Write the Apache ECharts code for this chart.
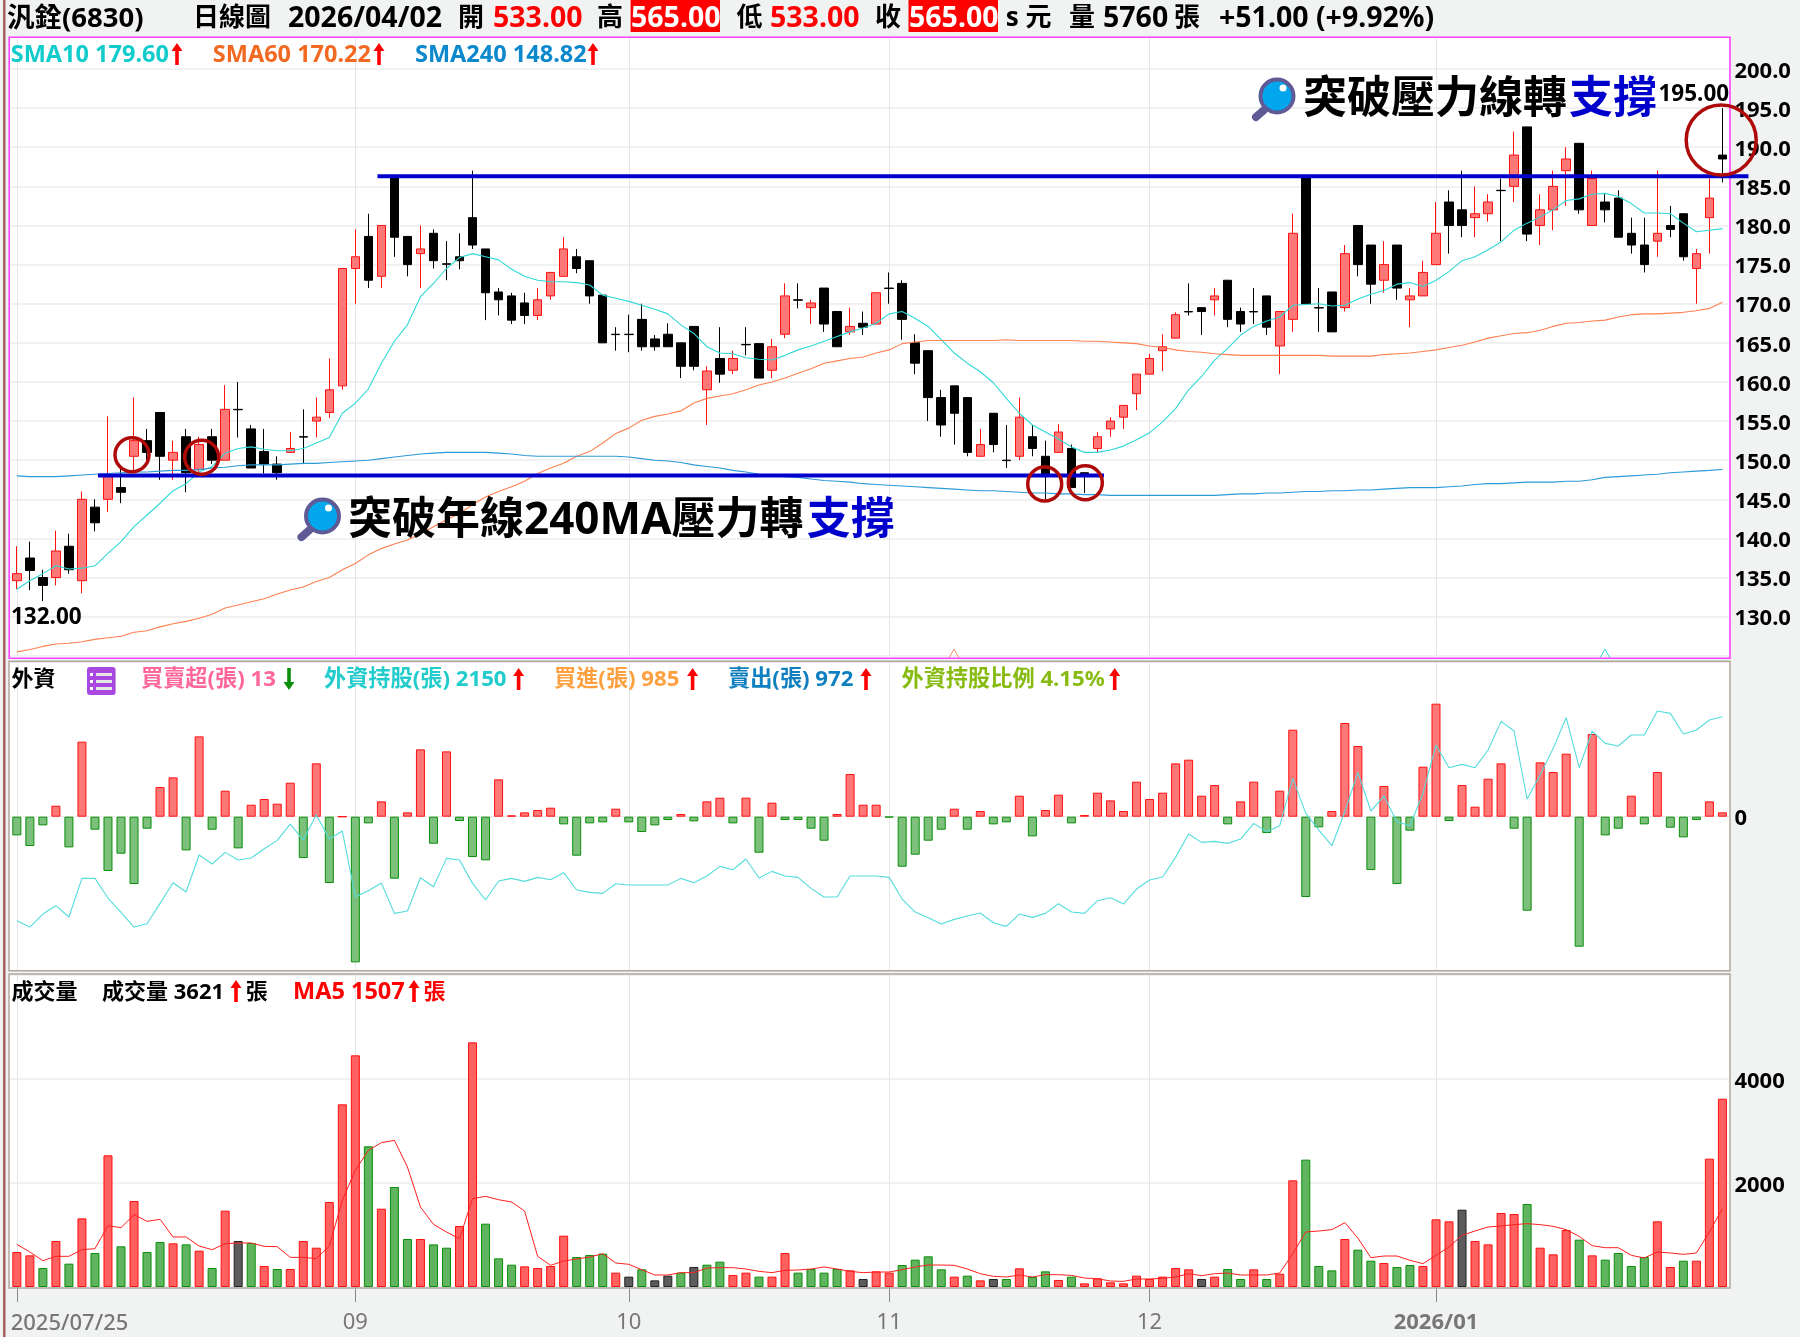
<!DOCTYPE html>
<html><head><meta charset="utf-8">
<style>html,body{margin:0;padding:0;background:#f1f3f2}#c{width:1800px;height:1337px}</style>
<script src="https://cdn.jsdelivr.net/npm/echarts@6/dist/echarts.min.js"></script>
</head><body><div id="c"></div>
<script>
// [open, close, low, high]
const candles=[[134.6,135.5,133.5,139],[137.5,135.9,133.4,139.6],[135,134,132,136],[135,138.4,134,141],[139,136,135.5,140.6],[134.6,145,133,146],[144,142,140.9,145],[145,148,143.4,155.6],[146.5,145.9,144.5,149],[150.5,152.5,148.5,158],
[152.5,151,150,154],[156.1,150.5,147.5,156.1],[150,151,147.5,152.5],[153,148.4,145.9,154],[148.8,152,148,153],[153,150,149.5,154],[150,156.5,150,159.6],[156.5,156.45,152.9,160],[154,149,149,154.5],[151.1,149.5,148.3,154],
[149.5,148.4,147.5,150.5],[151,151.5,151,153.6],[153,152.95,149.5,156.5],[155,155.5,152.9,158],[156.1,159,155.4,163],[159.5,174.5,159,174.5],[174.5,176,170,179.5],[178.6,173,172,181.5],[173.5,180,172,180],[186.3,178.5,176,186.5],
[178.6,175,173.5,178.6],[176.4,177,172,180],[179,175.5,174.5,179.5],[175.1,175.05,173,178],[176,175.5,174.4,179],[181,177.5,177,187],[177,171.4,167.9,177],[171.5,170.5,168.5,172],[171,167.9,167.4,171.4],[170.1,168.5,167.4,171.4],
[168.5,170.5,167.9,172],[171,174,170.5,174],[173.5,177,173.5,178.5],[176,174.5,173.9,177],[175.5,171,170,175.5],[171.1,165,165,171.1],[166.1,166.05,164,167],[166.1,166.05,163.8,168.6],[168,164.5,164,170],[165.5,164.5,164,166],
[166.1,164.5,164.5,167.5],[165,162,160.5,165],[167.1,162,161.5,167.1],[159,161.4,154.5,162],[163,161,159.9,167],[161.5,163,161,164],[164.8,164.75,163.4,167],[164.9,160.5,160.5,164.9],[161.5,164.5,160.5,165.5],[166.1,171,165.6,172.6],
[170.5,170.45,169.4,172.6],[169.5,170.1,167.4,170.5],[172,167.4,166.4,172],[169,164.5,164.5,169],[166.4,167.1,166,169.5],[167.5,167,166,169],[167.4,171.4,167.4,171.4],[172,171.95,170,174],[172.6,168,165.4,173],[165,162.4,161,166.1],
[164,158,155,164],[158,154.5,153,159],[159.5,156,152,159.5],[158,151,150.5,158],[150.5,152,150.5,154],[156,152,151,156],[150,149.95,149,154.5],[150.5,155.5,150,158],[153,151.5,150.5,154.5],[150.5,148,145,152.5],
[151,153.6,151,154.6],[151.5,146.5,146.5,152],[148.4,148.2,145.8,148.4],[151.5,153,151,153.6],[154,155,153,155.5],[155.5,157,154,157],[158.5,161,156.4,161],[161,163,161,163.6],[164,164.5,161.4,166.1],[165.6,168.6,165.6,168.9],
[169,168.95,168.5,172.6],[169.5,169,166,169.5],[170.5,171,168.5,172],[173,168,167,173],[169,167.4,166.4,169.5],[169,168.95,167.4,172],[171,167,166,171],[164.6,169,161,169],[168,179,166.4,181.5],[186.2,170,170,186.5],
[169.5,169.45,166.4,172],[171.5,166.4,166.4,171.5],[169.5,176.4,169,177.5],[180,175,173.5,180],[177.5,172.5,170,177.5],[173,175,171.4,178],[177.5,172,170.5,177.5],[170.5,171,167,172],[171,174,171,175.5],[175,179,175,183],
[183,180,176.4,184.5],[182,180,178.5,187],[181,181.5,178.5,185],[181.5,183,180.5,184],[184.5,184.45,178,186],[185,189,183,192],[192.6,178.9,178,192.6],[180,182,177.5,184],[182,185,179.4,187],[187,188.5,182.5,190],
[190.5,182,181.5,190.5],[180,186,180,187],[183,182,180.4,184.1],[183.5,178.5,178.5,184.5],[179,177.5,176.4,181],[177.5,175,174,181],[178,179,176,187],[180,179.5,178.5,182.5],[181.5,176,175.5,181.5],[174.5,176.4,170,177],[181,183.5,176.4,186],[189,188.5,185.5,195]];
const sma10=[133.5,134.6,135.5,136.5,136.1,136.2,136.5,138.1,139.6,141.5,143,144.5,146.1,147,148.5,149.2,150.9,151.5,151.7,151.4,151.2,151.2,151.5,152.2,152.9,156,157.3,159.1,162.4,165.2,167.3,170.9,172.6,174.5,175.9,176.4,176,175.6,174.4,173.5,173,172.8,172.8,172.7,172.4,171.1,170.7,170.3,169.8,169.3,168.7,167.3,166.2,164.5,163.7,163.6,163.1,162.9,162.8,163.4,164.1,164.6,165.2,165.8,166.4,166.9,167.5,168.7,169,168.1,167.1,165.4,163.7,162.4,161.3,159.9,157.9,156,154.5,153.6,152.7,151.7,151,151,151.3,151.8,152.6,153.5,154.9,156.6,159,160.7,162.8,164.3,166,167.1,167.8,168.3,169.8,169.9,170,169.7,169.8,170.6,171.2,171.7,172.5,172.7,172.2,173,174.1,175.5,176,176.9,177.9,179.4,180.3,181.1,182,183.2,183.4,184,184.1,183.7,182.8,181.6,181.6,181.5,180.3,179.2,179.4,179.6];
const sma60=[125.5,125.8,126.2,126.5,126.6,126.8,127.1,127.3,127.5,128,128.2,128.7,129.1,129.4,129.8,130.3,131.1,131.5,131.9,132.3,132.9,133.4,133.8,134.5,135,136,136.8,137.9,138.7,139.3,139.8,140.6,141.5,142.4,143.2,144.3,145.3,146,146.6,147.3,148.3,149,149.6,150.5,151.1,152.2,153.4,154.1,155.1,155.6,155.9,156.3,157.3,157.9,158.2,158.5,159,159.6,160,160.5,161.1,161.7,162.4,162.7,163,163.2,163.7,164.1,164.9,165.1,165.3,165.3,165.3,165.3,165.3,165.3,165.4,165.3,165.3,165.3,165.3,165.3,165.2,165.2,165.1,165,164.9,164.6,164.4,164.1,163.9,163.8,163.6,163.5,163.4,163.4,163.4,163.4,163.4,163.4,163.4,163.3,163.3,163.3,163.3,163.5,163.6,163.7,163.9,164.1,164.4,164.7,165.1,165.6,165.9,166.2,166.3,166.6,167.1,167.5,167.6,167.8,167.9,168.3,168.6,168.7,168.7,168.8,168.9,169.1,169.4,170.2];
const sma240=[148,147.9,147.9,147.9,148,148.1,148.2,148.3,148.4,148.5,148.5,148.6,148.7,148.7,148.8,149,149.1,149.3,149.4,149.4,149.4,149.5,149.6,149.6,149.7,149.8,149.9,150,150.2,150.4,150.6,150.8,150.9,151,151,151,151,150.9,150.8,150.6,150.5,150.5,150.5,150.5,150.5,150.5,150.5,150.4,150.2,150,149.9,149.7,149.4,149.2,149,148.7,148.5,148.2,148.1,147.9,147.8,147.6,147.4,147.3,147.2,147,146.9,146.8,146.7,146.6,146.5,146.4,146.3,146.2,146.1,146.1,146,145.9,145.8,145.8,145.7,145.7,145.6,145.6,145.5,145.5,145.5,145.5,145.5,145.5,145.5,145.5,145.5,145.6,145.7,145.7,145.8,145.8,145.9,146,146,146.1,146.1,146.2,146.2,146.3,146.4,146.5,146.5,146.5,146.6,146.7,146.9,147,147,147.1,147.2,147.2,147.2,147.3,147.3,147.5,147.8,147.9,148,148.1,148.2,148.4,148.5,148.6,148.7,148.82];
const foreignNet=[-56,-88,-26,33,-92,225,-39,-163,-111,-202,-36,89,118,-101,241,-39,78,-95,36,53,39,102,-124,160,-199,0,-437,-20,46,-186,13,202,-81,196,-13,-121,-131,112,4,13,20,27,-23,-117,-20,-17,24,-17,-46,-26,-10,8,-14,46,57,-20,57,-108,42,-10,-10,-36,-72,8,128,36,36,-2,-150,-114,-72,-39,24,-39,17,-23,-17,63,-59,20,66,-20,5,72,49,17,105,53,72,160,171,63,95,-23,46,105,-49,78,261,-241,-32,17,281,212,-160,92,-202,-42,150,339,-13,95,30,114,160,-36,-282,163,134,189,-390,248,-56,-36,63,-23,134,-33,-62,-10,46,13];
const foreignHold=[926,888,966,1016,948,1180,1180,1062,976,888,908,1030,1154,1098,1320,1266,1336,1290,1302,1358,1408,1506,1410,1562,1416,1464,1070,1106,1152,970,984,1184,1130,1300,1290,1150,1050,1164,1180,1162,1186,1172,1214,1110,1096,1090,1148,1140,1140,1140,1140,1180,1154,1194,1252,1232,1296,1182,1222,1194,1186,1120,1068,1068,1194,1194,1194,1186,1056,978,944,906,934,954,972,914,892,966,946,970,1028,978,970,1046,1064,1026,1116,1170,1188,1306,1446,1396,1402,1390,1416,1510,1460,1496,1780,1570,1470,1376,1580,1816,1584,1674,1520,1496,1690,1980,1844,1864,1844,1950,2122,2064,1656,1800,1960,2144,1844,2064,1990,1974,2040,2040,2184,2170,2046,2070,2130,2150];
const volume=[673,609,365,885,449,1320,654,2532,782,1654,673,865,840,820,699,365,1468,885,846,404,346,346,885,756,1635,3513,4455,2705,1506,1923,923,923,820,756,1173,4705,1218,551,429,397,365,404,987,577,615,641,276,199,340,128,218,276,385,429,487,231,276,199,199,654,276,346,276,346,320,154,301,276,423,526,590,340,199,218,128,154,154,359,192,301,135,199,70,167,90,70,218,154,199,365,340,154,199,346,154,340,154,256,2051,2449,404,320,923,718,506,461,385,423,404,1301,1263,1487,885,820,1423,1404,1596,756,628,1096,910,609,526,654,404,577,1263,385,506,506,2468,3621];
const volumeKinds=("r r g r g r g r g r g g r g r g r k g r g r r r r r r g r g g r g g r r g g g r r r r g g "+
"g r k g k k g k g g r r g r r g g g g r k r r g g g g r g r k g r g g r g r r r r r r r r r k "+
"r g g r g r r g g g r g g r g g r r r k r r r r g r r r g r g g g g r r g r r r").trim().split(/\s+/);
const ma5=[820,673,506,590,590,718,737,1179,1141,1391,1263,1301,962,962,788,718,833,846,846,782,776,570,570,545,788,1667,2244,2628,2776,2820,2308,1538,1205,1058,929,1699,1744,1679,1635,1461,590,417,500,538,577,641,462,436,333,231,231,276,276,365,372,372,346,301,276,320,327,346,385,346,301,276,288,288,333,385,423,423,417,346,256,205,192,231,192,237,237,224,173,160,115,109,154,154,167,192,256,218,256,269,231,231,231,269,641,1058,1077,1103,1237,942,564,596,596,513,449,609,769,994,1077,1154,1173,1199,1218,1199,1167,1103,974,795,756,756,609,558,673,654,628,654,1058,1507];
const tickLabels={0:'2025/07/25',26:'09',47:'10',67:'11',87:'12',109:'2026/01'};
const priceLevels=[186.3,148.06];
const categories=candles.map((_,i)=>String(i));

const F='"Noto Sans","Noto Sans CJK TC",sans-serif';
const isTick=i=>tickLabels[i]!==undefined;
const vLine={show:true,interval:isTick,alignWithLabel:true,lineStyle:{color:'#e6e6e6',width:1}};
function xAxis(gi,withLabels){return {type:'category',gridIndex:gi,data:categories,boundaryGap:true,
  axisLine:{show:false},
  axisTick:{show:withLabels,alignWithLabel:true,interval:isTick,length:15,lineStyle:{color:'#888',width:1}},
  axisLabel:{show:withLabels,interval:isTick,margin:25,fontFamily:F,fontSize:22,color:'#777',
    formatter:(v,i)=>i===0?'':(i===109?'{b|2026/01}':tickLabels[i]),rich:{b:{fontWeight:'bold',fontFamily:F,fontSize:22,color:'#777'}}},
  splitLine:vLine};}
const yLabel={fontFamily:F,fontSize:22,fontWeight:'bold',color:'#000',margin:5.5,verticalAlign:'top',lineHeight:5};
const hLine={show:true,lineStyle:{color:'#ececec',width:1.5}};
const GL=10.33,GW=1718.6;
const option={animation:false,backgroundColor:'#f1f3f2',
 grid:[{left:GL,width:GW,top:29.88,height:625.92},{left:GL,width:GW,top:662.7,height:308},{left:GL,width:GW,top:975,height:312}],
 xAxis:[xAxis(0,false),xAxis(1,false),xAxis(2,true)],
 yAxis:[
  {type:'value',gridIndex:0,position:'right',min:125,max:205,interval:5,axisLine:{show:false},axisTick:{show:false},splitLine:hLine,
   axisLabel:Object.assign({},yLabel,{formatter:v=>(v===125||v===205)?'':v.toFixed(1)})},
  {type:'value',gridIndex:1,position:'right',min:-462,max:462,interval:462,axisLine:{show:false},axisTick:{show:false},splitLine:{show:true,lineStyle:{color:'#e8e8e8',width:1}},
   axisLabel:Object.assign({},yLabel,{formatter:v=>v===0?'0':''})},
  {type:'value',gridIndex:1,position:'right',min:626,max:2474,show:false,splitLine:{show:false}},
  {type:'value',gridIndex:2,position:'right',min:0,max:6000,interval:2000,axisLine:{show:false},axisTick:{show:false},splitLine:hLine,
   axisLabel:Object.assign({},yLabel,{formatter:v=>(v===0||v===6000)?'':String(v)})}
 ],
 series:[
  {type:'candlestick',name:'K',xAxisIndex:0,yAxisIndex:0,data:candles,barWidth:9,z:3,
   itemStyle:{color:'#ff7878',color0:'#000',borderColor:'#ff1010',borderColor0:'#000',borderWidth:1}},
  {type:'line',name:'SMA10',xAxisIndex:0,yAxisIndex:0,data:sma10,showSymbol:false,z:4,lineStyle:{color:'#30d8d8',width:1.1}},
  {type:'line',name:'SMA60',xAxisIndex:0,yAxisIndex:0,data:sma60,showSymbol:false,z:4,lineStyle:{color:'#ff8050',width:1.1}},
  {type:'line',name:'SMA240',xAxisIndex:0,yAxisIndex:0,data:sma240,showSymbol:false,z:4,lineStyle:{color:'#2a9ad8',width:1.1}},
  {type:'bar',name:'買賣超',xAxisIndex:1,yAxisIndex:1,barWidth:9,z:3,
   data:foreignNet.map(v=>({value:v,itemStyle:v>=0?{color:'#ff7878',borderColor:'#ff1010',borderWidth:1}:{color:'#7cc07c',borderColor:'#0a8f0a',borderWidth:1}}))},
  {type:'line',name:'外資持股',xAxisIndex:1,yAxisIndex:2,data:foreignHold,showSymbol:false,z:4,lineStyle:{color:'#55dcdc',width:1.1}},
  {type:'bar',name:'成交量',xAxisIndex:2,yAxisIndex:3,barWidth:9,z:3,
   data:volume.map((v,i)=>{const k=volumeKinds[i];return {value:v,itemStyle:k==='r'?{color:'#ff6060',borderColor:'#ff1010',borderWidth:1}:k==='g'?{color:'#60b460',borderColor:'#0a8f0a',borderWidth:1}:{color:'#5c5c5c',borderColor:'#222',borderWidth:1}};})},
  {type:'line',name:'MA5',xAxisIndex:2,yAxisIndex:3,data:ma5,showSymbol:false,z:4,lineStyle:{color:'#ff2020',width:1}}
 ]};
const chart=echarts.init(document.getElementById('c'),null,{renderer:'canvas',width:1800,height:1337});
chart.setOption(option);

const band=GW/132;
const px=(i,p)=>{const a=chart.convertToPixel({gridIndex:0},[Math.floor(i),p]);return [a[0]+(i-Math.floor(i))*band,a[1]];};
const Z=100;
function T(x,y,text,fill,size,weight){return {type:'text',z:Z+5,style:{x,y:y+2.5,text,fill,font:`${weight||700} ${size}px ${F}`,textVerticalAlign:'middle',textAlign:'left'}};}
function arrow(x,y0,color,down){const y=y0+1,s=down?-1:1;return {type:'polygon',z:Z+5,shape:{points:[[x,y-11*s],[x+5.5,y-3*s],[x+1.8,y-3*s],[x+1.8,y+11*s],[x-1.8,y+11*s],[x-1.8,y-3*s],[x-5.5,y-3*s]]},style:{fill:color}};}
function rect(x,y,w,h,fill,z){return {type:'rect',z:z===undefined?Z:z,shape:{x,y,width:w,height:h},style:{fill}};}
function border(x,y,w,h,color,lw){return {type:'rect',z:Z+1,shape:{x,y,width:w,height:h},style:{fill:'none',stroke:color,lineWidth:lw}};}
function circle(cx,cy,r){return {type:'circle',z:Z+6,shape:{cx,cy,r},style:{fill:'none',stroke:'#ae0a0a',lineWidth:3.5}};}
function lens(cx,cy){return [
 {type:'line',z:Z+6,shape:{x1:cx-13,y1:cy+14,x2:cx-21,y2:cy+21},style:{stroke:'#5f5a96',lineWidth:8,lineCap:'round'}},
 {type:'circle',z:Z+6,shape:{cx,cy,r:16.5},style:{fill:'#02a6ec',stroke:'#5f5a96',lineWidth:4}},
 {type:'circle',z:Z+6,shape:{cx:cx+6,cy:cy-8,r:3.5},style:{fill:'#fff'}}];}
const hs=(i1,i2,p)=>{const a=px(i1,p),b=px(i2,p);return {type:'line',z:Z+3,shape:{x1:a[0],y1:a[1],x2:b[0],y2:b[1]},style:{stroke:'#0000cc',lineWidth:4}};};
const S=23.5,C=22.2,H=28.5,H2=26;
const gfx=[
 rect(9,37,1721,622,'#fff',-1),rect(9,661,1721,310,'#fff',-1),rect(9,974,1721,314,'#fff',-1),
 rect(0,0,1800,36.5,'#f1f3f2',Z-1),rect(3,0,2.5,1337,'#a86060',Z-1),
 hs(27.7,133,priceLevels[0]),hs(6.23,83.5,priceLevels[1]),
 border(9.2,37.3,1720.8,621,'#ff44ff',1.6),border(9,661.3,1721,309.4,'#b0a89e',1.5),border(9,974,1721,314,'#b0a89e',1.5),
 T(7,16.5,'汎銓(6830)','#000',27.5),T(193,16.5,'日線圖','#000',H2),T(288,16.5,'2026/04/02','#000',H),T(458,16.5,'開','#000',H2),T(493,16.5,'533.00','#f00',H),
 T(597,16.5,'高','#000',H2),rect(630.6,0,89.4,32,'#f00',Z+4),T(631,16.5,'565.00','#fff',H),
 T(736.6,16.5,'低','#000',H2),T(770,16.5,'533.00','#f00',H),T(875,16.5,'收','#000',H2),rect(908.5,0,89.5,32,'#f00',Z+4),T(909,16.5,'565.00','#fff',H),
 T(1005.7,16.5,'s 元','#000',H2),T(1069,16.5,'量','#000',H2),T(1103,16.5,'5760','#000',H),T(1174,16.5,'張','#000',H2),T(1219,16.5,'+51.00 (+9.92%)','#000',H),
 T(10.7,53,'SMA10 179.60','#12cccc',S),arrow(177,53,'#f00'),T(212.8,53,'SMA60 170.22','#f26a22',S),arrow(379,53,'#f00'),T(415,53,'SMA240 148.82','#0c88cc',S),arrow(593,53,'#f00'),
 T(11.5,677,'外資','#000',22),
 {type:'rect',z:Z+5,shape:{x:87,y:667,width:28.6,height:28,r:3},style:{fill:'#a848e0'}},
 rect(96,673,16,3,'#e6e6e6',Z+6),rect(96,680,16,3,'#e6e6e6',Z+6),rect(96,687,16,3,'#e6e6e6',Z+6),rect(90,673,3,3,'#fff',Z+6),rect(90,680,3,3,'#fff',Z+6),rect(90,687,3,3,'#fff',Z+6),
 T(141,677,'買賣超(張) 13','#ff6699',C),arrow(289,678,'#0a8f0a',true),
 T(324,677,'外資持股(張) 2150','#22cccc',C),arrow(518.6,678,'#f00'),
 T(554,677,'買進(張) 985','#ffa040',C),arrow(692.6,678,'#f00'),
 T(728,677,'賣出(張) 972','#0f7fbf',C),arrow(866,678,'#f00'),
 T(901.5,677,'外資持股比例 4.15%','#88bb11',C),arrow(1114.7,678,'#f00'),
 T(11.5,990,'成交量','#000',22),T(102,990,'成交量 3621','#000',22),arrow(236,990,'#f00'),T(245.7,990,'張','#000',22),
 T(293,990,'MA5 1507','#f00',S),arrow(414,990,'#f00'),T(423.6,990,'張','#f00',22),
 T(1658.5,92,'195.00','#000',22.5),T(11,615,'132.00','#000',22.5),
 T(10.7,1321,'2025/07/25','#777',22,500),
 T(1303,98,'突破壓力線轉','#000',44,700),T(1569,98,'支撐','#0000cc',44,700),
 T(348,519,'突破年線240MA壓力轉','#000',44,700),T(806.7,519,'支撐','#0000cc',44,700),
 ...lens(1277,96),...lens(322.5,516),
 circle(132,454.7,17),circle(201.7,457.3,17),circle(1044.7,484,17),circle(1085.3,482.7,17),circle(1721.2,140,35),
 {type:'polyline',z:Z,shape:{points:[[949,658],[954,649],[959,658]]},style:{fill:'none',stroke:'#ff9070',lineWidth:1}},
 {type:'polyline',z:Z,shape:{points:[[1600,658],[1605,649],[1610,658]]},style:{fill:'none',stroke:'#30d8d8',lineWidth:1}}
];
chart.setOption({graphic:{elements:gfx}});
</script></body></html>
